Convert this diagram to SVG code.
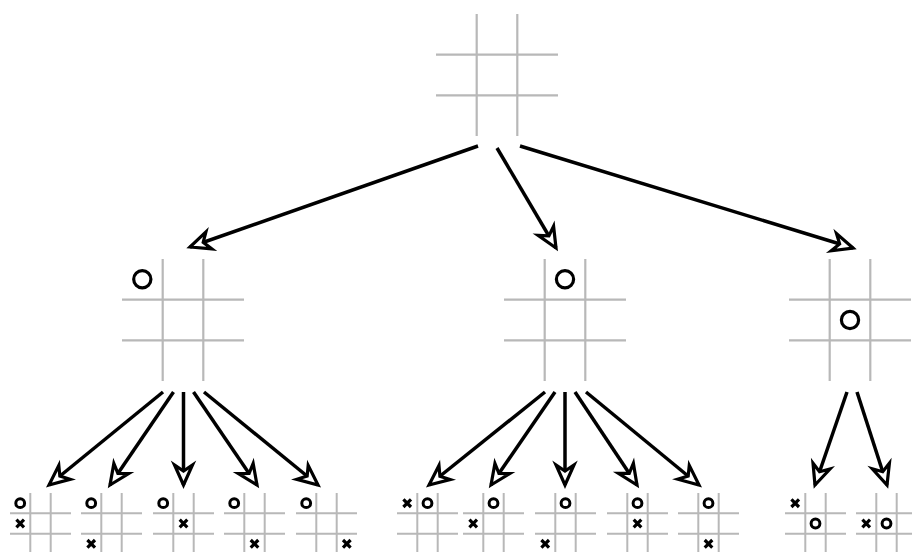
<svg xmlns="http://www.w3.org/2000/svg" width="912" height="552" viewBox="0 0 912 552">
<style>
.g{stroke:#b8b8b8;stroke-width:2.2;fill:none}
.gs{stroke:#b8b8b8;stroke-width:2;fill:none}
.ob{fill:none;stroke:#000;stroke-width:3.2}
.os{fill:none;stroke:#000;stroke-width:3}
.x{stroke:#000;stroke-width:3.2;stroke-linecap:butt}
.e{stroke:#000;stroke-width:3.5;fill:none;marker-end:url(#ah)}
</style>
<defs>
<marker id="ah" markerUnits="userSpaceOnUse" markerWidth="30" markerHeight="30" refX="0" refY="0" orient="auto" overflow="visible">
<path d="M0,0 L-20,-9 L-14,0 L-20,9 Z" fill="#fff" stroke="#000" stroke-width="3.2" stroke-linejoin="miter"/>
</marker>
<g id="big"><path class="g" d="M40.7,0V122M81.3,0V122M0,40.7H122M0,81.3H122"/></g>
<g id="sm"><path class="gs" d="M20.3,0V61M40.7,0V61M0,20.3H61M0,40.7H61"/></g>
<g id="xm"><path class="x" d="M-3.8,-3.8L3.8,3.8M-3.8,3.8L3.8,-3.8"/></g>
</defs>
<g id="root"><use href="#big" x="436" y="14"/></g>
<g id="n1"><use href="#big" x="122" y="259"/><circle class="ob" cx="142.3" cy="279.3" r="8.6"/></g>
<g id="n2"><use href="#big" x="504" y="259"/><circle class="ob" cx="565" cy="279.3" r="8.6"/></g>
<g id="n3"><use href="#big" x="789" y="259"/><circle class="ob" cx="850" cy="320" r="8.6"/></g>
<g id="n11"><use href="#sm" x="10" y="493"/><circle class="os" cx="20.2" cy="503.2" r="4.4"/><use href="#xm" x="20.2" y="523.5"/></g>
<g id="n12"><use href="#sm" x="81" y="493"/><circle class="os" cx="91.2" cy="503.2" r="4.4"/><use href="#xm" x="91.2" y="543.8"/></g>
<g id="n13"><use href="#sm" x="153" y="493"/><circle class="os" cx="163.2" cy="503.2" r="4.4"/><use href="#xm" x="183.5" y="523.5"/></g>
<g id="n14"><use href="#sm" x="224" y="493"/><circle class="os" cx="234.2" cy="503.2" r="4.4"/><use href="#xm" x="254.5" y="543.8"/></g>
<g id="n15"><use href="#sm" x="296" y="493"/><circle class="os" cx="306.2" cy="503.2" r="4.4"/><use href="#xm" x="346.8" y="543.8"/></g>
<g id="n21"><use href="#sm" x="397" y="493"/><use href="#xm" x="407.2" y="503.2"/><circle class="os" cx="427.5" cy="503.2" r="4.4"/></g>
<g id="n22"><use href="#sm" x="463" y="493"/><circle class="os" cx="493.5" cy="503.2" r="4.4"/><use href="#xm" x="473.2" y="523.5"/></g>
<g id="n23"><use href="#sm" x="535" y="493"/><circle class="os" cx="565.5" cy="503.2" r="4.4"/><use href="#xm" x="545.2" y="543.8"/></g>
<g id="n24"><use href="#sm" x="607" y="493"/><circle class="os" cx="637.5" cy="503.2" r="4.4"/><use href="#xm" x="637.5" y="523.5"/></g>
<g id="n25"><use href="#sm" x="678" y="493"/><circle class="os" cx="708.5" cy="503.2" r="4.4"/><use href="#xm" x="708.5" y="543.8"/></g>
<g id="n31"><use href="#sm" x="785" y="493"/><use href="#xm" x="795.2" y="503.2"/><circle class="os" cx="815.5" cy="523.5" r="4.4"/></g>
<g id="n32"><use href="#sm" x="856" y="493"/><use href="#xm" x="866.2" y="523.5"/><circle class="os" cx="886.5" cy="523.5" r="4.4"/></g>
<g id="edges">
<path class="e" d="M478,146L190,247"/>
<path class="e" d="M497,148L556,248"/>
<path class="e" d="M520,146L853,248"/>
<path class="e" d="M163,392L49,485"/>
<path class="e" d="M173.5,392L110,485"/>
<path class="e" d="M183.5,392L183.5,485"/>
<path class="e" d="M193.5,392L257,485"/>
<path class="e" d="M204,392L318,485"/>
<path class="e" d="M545,392L429,485"/>
<path class="e" d="M555,392L491,485"/>
<path class="e" d="M565,392L565,485"/>
<path class="e" d="M575,392L637,485"/>
<path class="e" d="M586,392L699,485"/>
<path class="e" d="M847,392L815,485"/>
<path class="e" d="M857,392L887,485"/>
</g>
</svg>
